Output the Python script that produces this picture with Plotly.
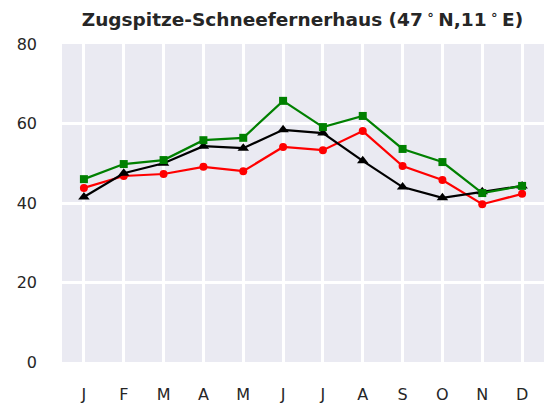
import plotly.graph_objects as go

months = ["J", "F", "M", "A", "M", "J", "J", "A", "S", "O", "N", "D"]
green_vals = [46.0, 49.8, 50.8, 55.8, 56.4, 65.7, 59.1, 61.9, 53.6, 50.3, 42.5, 44.3]
black_vals = [41.5, 47.5, 50.0, 54.3, 53.8, 58.4, 57.6, 50.6, 44.0, 41.3, 42.8, 44.3]
red_vals = [43.8, 46.8, 47.3, 49.1, 48.0, 54.1, 53.3, 58.1, 49.3, 45.8, 39.7, 42.3]
y_ticks = [0, 20, 40, 60, 80]

x = list(range(len(months)))

fig = go.Figure()
fig.add_trace(go.Scatter(x=x, y=red_vals, mode="lines+markers",
                         line=dict(color="red", width=2.2),
                         marker=dict(symbol="circle", size=8, color="red")))
fig.add_trace(go.Scatter(x=x, y=black_vals, mode="lines+markers",
                         line=dict(color="black", width=2.2),
                         marker=dict(symbol="triangle-up", size=10, color="black")))
fig.add_trace(go.Scatter(x=x, y=green_vals, mode="lines+markers",
                         line=dict(color="green", width=2.2),
                         marker=dict(symbol="square", size=8, color="green")))

fig.update_layout(
    width=544, height=406,
    margin=dict(l=62, r=0, t=44, b=44, autoexpand=False),
    paper_bgcolor="white",
    plot_bgcolor="#EAEAF2",
    showlegend=False,
    font=dict(family="DejaVu Sans", size=16, color="#262626"),
    title=dict(text="<b>Zugspitze-Schneefernerhaus (47\u2009<sup>∘</sup>\u2009N,11\u2009<sup>∘</sup>\u2009E)</b>",
               x=0.556, xanchor="center", y=0.951, yanchor="middle",
               font=dict(size=18.5, color="#262626")),
)
fig.update_xaxes(tickvals=x, ticktext=months, range=[-0.55, 11.55],
                 showgrid=True, gridcolor="white", gridwidth=2.5, automargin=False,
                 zeroline=False, showline=False, ticks="", ticklabelstandoff=21)
fig.update_yaxes(tickvals=y_ticks, range=[0, 80],
                 showgrid=True, gridcolor="white", gridwidth=2.5, automargin=False,
                 zeroline=False, showline=False, ticks="", ticklabelstandoff=24)

# no page margin / scrollbars, no modebar
fig.write_html("out.html", config={"displayModeBar": False},
               post_script="document.body.style.margin = '0px'; document.body.style.overflow = 'hidden';")
